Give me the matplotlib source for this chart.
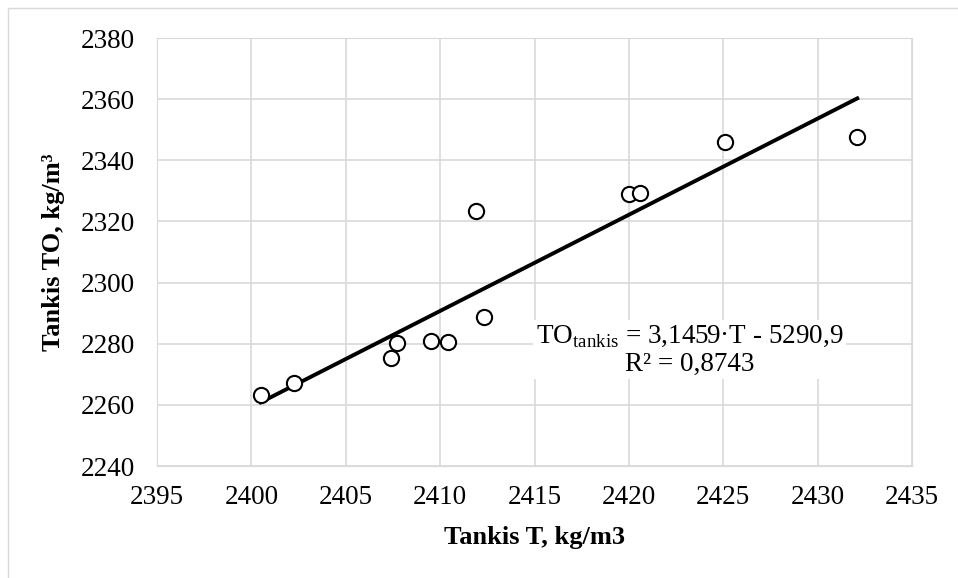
import matplotlib.pyplot as plt
import matplotlib.patches as patches
import numpy as np

plt.rcParams['font.family'] = ['Liberation Serif', 'DejaVu Serif']
plt.rcParams['mathtext.fontset'] = 'custom'
plt.rcParams['mathtext.rm'] = 'Liberation Serif'

# measured points
t_vals = [2400.5, 2402.25, 2407.4, 2407.7, 2409.5, 2410.4, 2411.9, 2412.3,
          2420.0, 2420.6, 2425.1, 2432.1]
to_vals = [2263.2, 2267.0, 2275.2, 2280.3, 2280.9, 2280.6, 2323.5, 2288.8,
           2329.0, 2329.2, 2346.0, 2347.6]
slope = 3.1459
intercept = -5290.9
r2_text = "0,8743"
xticks = [2395, 2400, 2405, 2410, 2415, 2420, 2425, 2430, 2435]
yticks = [2240, 2260, 2280, 2300, 2320, 2340, 2360, 2380]

fig = plt.figure(figsize=(9.58, 5.78), dpi=100)
ax = fig.add_axes([157/958, 1-466/578, (912-157)/958, (466-38)/578])

# outer chart border
fig.add_artist(patches.Rectangle((8/958, -0.1), 1.0, (578-8)/578 + 0.1,
                                 transform=fig.transFigure, fill=False,
                                 edgecolor='#d9d9d9', linewidth=1))

ax.grid(True, color='#d9d9d9', linewidth=1.2)
ax.set_axisbelow(True)

tx = np.array([min(t_vals), max(t_vals)])
ax.plot(tx, slope*tx + intercept, color='black', linewidth=2.8, zorder=2)
ax.scatter(t_vals, to_vals, s=120, facecolors='white', edgecolors='black',
           linewidths=1.5, zorder=3)

ax.set_xlim(2395, 2435)
ax.set_ylim(2240, 2380)
ax.set_xticks(xticks)
ax.set_yticks(yticks)
ax.tick_params(length=0, labelsize=19.5)
ax.tick_params(axis='y', pad=16)
ax.tick_params(axis='x', pad=14)
for s in ax.spines.values():
    s.set_color('#d9d9d9')

ax.set_xlabel('Tankis T, kg/m3', fontsize=19, fontweight='bold', labelpad=11)
ax.set_ylabel('Tankis TO, kg/m³', fontsize=19, fontweight='bold', labelpad=11)

eq = r'$\mathrm{TO}_{\mathrm{tankis}}$' + ' = 3,1459·T - 5290,9\nR² = ' + r2_text
ax.text(2423.2, 2278, eq, fontsize=19.5, ha='center', va='center',
        multialignment='center', linespacing=1.15,
        bbox=dict(facecolor='white', edgecolor='none', pad=2), zorder=4)

fig.savefig('out.png', dpi=100)
